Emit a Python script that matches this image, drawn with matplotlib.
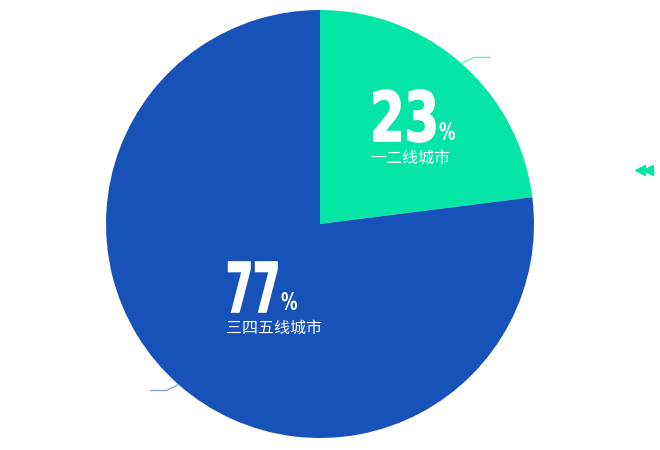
import numpy as np
import matplotlib
matplotlib.use("Agg")
import matplotlib.pyplot as plt
from matplotlib.textpath import TextPath
from matplotlib.patches import PathPatch
from matplotlib.font_manager import FontProperties
from matplotlib.transforms import Affine2D

categories = ["一二线城市", "三四五线城市"]
shares = [23, 77]
colors = ["#05e5a6", "#1652b8"]
line_colors = ["#6fe6c2", "#87a3d8"]

W, H = 660, 450
CX, CY, R = 320, 226, 214

# label layout: left x, digit baseline y, digit width, digit height
label_left = [370, 226]
label_base = [308, 138]
digit_w = [65, 51]
digit_h = [52, 50]

cjk_font = ["Noto Sans CJK SC", "DejaVu Sans"]
bold = FontProperties(family="DejaVu Sans", weight="bold")

fig = plt.figure(figsize=(W / 100, H / 100), dpi=100, facecolor="white")
ax = fig.add_axes([0, 0, 1, 1])

wedges, _ = ax.pie(shares, colors=colors, startangle=90, counterclock=False,
                   center=(CX, CY), radius=R, frame=True,
                   wedgeprops=dict(linewidth=0))
ax.set_xlim(0, W)
ax.set_ylim(0, H)
ax.set_aspect("equal")
ax.axis("off")


def boxed_text(s, x, y, w, h, lw=1.2):
    # draw text as a path squeezed into a w x h box (condensed look)
    p = TextPath((0, 0), s, size=50, prop=bold)
    v = p.vertices
    x0, x1 = v[:, 0].min(), v[:, 0].max()
    y0, y1 = v[:, 1].min(), v[:, 1].max()
    tr = Affine2D().translate(-x0, -y0).scale(w / (x1 - x0), h / (y1 - y0)).translate(x, y)
    ax.add_patch(PathPatch(tr.transform_path(p), facecolor="white",
                           edgecolor="white", linewidth=lw, zorder=5))


for i, w in enumerate(wedges):
    lx, by = label_left[i], label_base[i]
    boxed_text(f"{shares[i]}", lx, by, digit_w[i], digit_h[i])
    boxed_text("%", lx + digit_w[i] + 4, by + 2, 16, 18, lw=0)
    ax.text(lx, by - 21, categories[i], color="white", fontsize=11.5,
            family=cjk_font, ha="left", va="baseline", zorder=5)

    # leader line from the wedge edge
    mid = np.deg2rad((w.theta1 + w.theta2) / 2)
    x0 = CX + R * np.cos(mid)
    y0 = CY + R * np.sin(mid)
    sx = np.sign(np.cos(mid))
    sy = np.sign(np.sin(mid))
    ax.plot([x0, x0 + sx * 12, x0 + sx * 28], [y0, y0 + sy * 6, y0 + sy * 6],
            color=line_colors[i], linewidth=1)

# legend scroll arrows
ax.plot([640, 648], [H - 170, H - 170], linestyle="none", marker="<",
        markersize=7, color=colors[0])

fig.savefig("out.png", dpi=100, facecolor="white")
